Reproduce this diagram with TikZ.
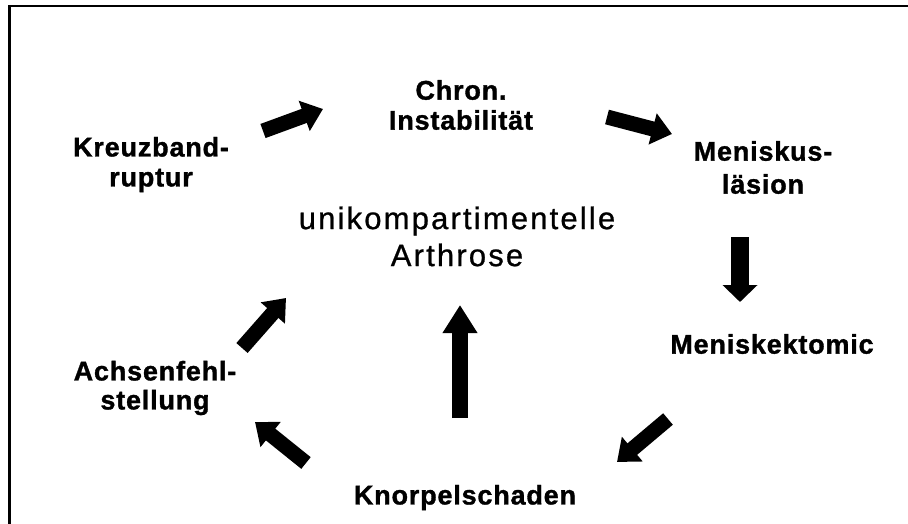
\documentclass[tikz,border=0pt]{standalone}
\usepackage{fontspec}
\setmainfont{Liberation Sans}
\newfontfamily\labfont[LetterSpace=3,FakeBold=1.2]{Liberation Sans}
\newfontfamily\ctrfont[LetterSpace=7,FakeBold=0.8]{Liberation Sans}
\usetikzlibrary{arrows.meta}
\begin{document}
\begin{tikzpicture}[x=1pt,y=-1pt,
  lab/.style={font=\labfont\bfseries\fontsize{27}{30}\selectfont, align=center, inner sep=0pt},
  ctr/.style={font=\ctrfont\fontsize{31}{37}\selectfont, align=center, inner sep=0pt},
  blockarrow/.style={line width=15pt, line cap=butt, -{Triangle[length=20pt,width=31pt]}},
  bigarrow/.style={line width=16pt, line cap=butt, -{Triangle[length=28pt,width=33pt]}},
  downarrow/.style={line width=18pt, line cap=butt, -{Triangle[length=17pt,width=34pt]}},
  frameline/.style={line width=2.4pt}
]
\useasboundingbox (0,0) rectangle (908,524);
\fill[white] (0,0) rectangle (908,524);
\coordinate (fbl) at (9.5,524);
\coordinate (ftl) at (9.5,6.2);
\coordinate (ftr) at (908,6.2);
\draw[frameline] (fbl) -- (ftl) -- (ftr);

\node[lab] (kreuz) at (151,164.5) {Kreuzband-\\ruptur};
\node[lab] (chron) at (461,105) {Chron.\\Instabilität};
\node[lab, font=\labfont\bfseries\fontsize{27}{33}\selectfont] (menis) at (763,167.5) {Meniskus-\\läsion};
\node[ctr] (arth) at (457,236.5) {unikompartimentelle\\Arthrose};
\node[lab] (ektom) at (772,344) {Meniskektomic};
\node[lab, font=\labfont\bfseries\fontsize{27}{29}\selectfont] (achs) at (155,388) {Achsenfehl-\\stellung};
\node[lab] (knorp) at (465,497.5) {Knorpelschaden};

\coordinate (a1s) at (263,131);
\coordinate (a1e) at (323,109);
\coordinate (a2s) at (607,117);
\coordinate (a2e) at (672,134);
\coordinate (a3s) at (740,237);
\coordinate (a3e) at (740,302);
\coordinate (a4s) at (668,419);
\coordinate (a4e) at (617,462);
\coordinate (a5s) at (460,418);
\coordinate (a5e) at (460,305);
\coordinate (a6s) at (306,463);
\coordinate (a6e) at (255,422);
\coordinate (a7s) at (242,348);
\coordinate (a7e) at (286,298);

\draw[blockarrow] (a1s) -- (a1e);
\draw[blockarrow] (a2s) -- (a2e);
\draw[downarrow] (a3s) -- (a3e);
\draw[blockarrow] (a4s) -- (a4e);
\draw[bigarrow] (a5s) -- (a5e);
\draw[blockarrow] (a6s) -- (a6e);
\draw[blockarrow] (a7s) -- (a7e);
\end{tikzpicture}
\end{document}
